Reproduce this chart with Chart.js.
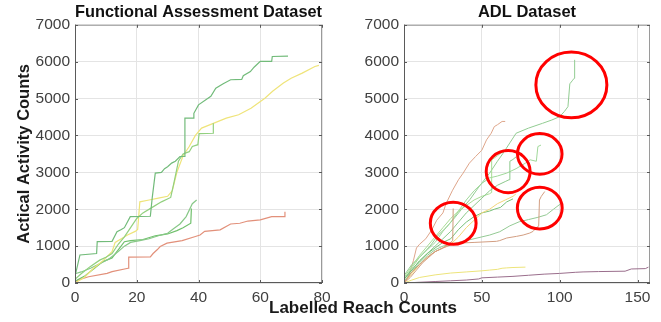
<!DOCTYPE html>
<html>
<head>
<meta charset="utf-8">
<script src="https://cdn.jsdelivr.net/npm/chart.js@4.4.1/dist/chart.umd.min.js"></script>
<style>
  body { margin:0; background:#fff; width:661px; height:322px; overflow:hidden; position:relative; }
  canvas { position:absolute; top:0; }
  #faCanvas { left:0; }
  #adlCanvas { left:330px; }
  #xlabel { position:absolute; left:213px; width:300px; top:298px; text-align:center;
            font-family:"Liberation Sans", Arial, sans-serif; font-weight:bold; font-size:17px; color:#1a1a1a; }
</style>
</head>
<body>
<canvas id="faCanvas" width="345" height="322"></canvas>
<canvas id="adlCanvas" width="331" height="322"></canvas>
<div id="xlabel">Labelled Reach Counts</div>
<script>
// Functional Assessment dataset: [reach count, activity count]
const faGreen1 = [[0,180],[1.6,760],[7,800],[7.2,1120],[12,1130],[13.6,1390],[15,1450],[16,1500],[17.9,1800],[24.4,1810],[25,2300],[26,2980],[28,3000],[29,3100],[30,3150],[31.3,3250],[32.5,3300],[34,3430],[35.6,3430],[35.6,4470],[38.3,4470],[38.5,4600],[40,4830],[44,5060],[45.6,5280],[48,5400],[50.4,5510],[54,5520],[54.5,5620],[56.8,5730],[58,5850],[60,6010],[63.7,6010],[63.9,6140],[69,6150]];
const faGreen2 = [[0,100],[2,250],[5,450],[8,620],[10,700],[12,800],[14,1050],[16,1250],[18,1500],[20,1750],[22,1900],[25,2050],[28,2200],[31,2320],[32,2700],[33.5,3300],[35,3500],[37,3560],[38,3700],[39.8,3750],[40.2,4050],[44.8,4060],[44.8,4330]];
const faYellow = [[0,0],[3,150],[6,400],[9,600],[12,850],[13,1100],[15,1200],[17,1300],[19.5,1400],[20.3,1450],[21,2200],[24,2250],[27,2300],[30,2350],[31.5,2500],[33,3000],[35,3450],[37,3700],[39,4000],[41,4200],[44,4300],[49,4470],[53,4560],[57,4740],[61.5,5010],[64,5200],[67.5,5420],[70,5550],[73.6,5690],[77.7,5870],[79,5900]];
const faGreen3 = [[0,250],[2,300],[5,400],[8,520],[11,650],[14,850],[16,1000],[18,1100],[21,1150],[24,1200],[27,1280],[30,1350],[32,1480],[34,1600],[36,1800],[38,2150],[39.4,2250]];
const faGreen4 = [[0,50],[3,180],[6,380],[9,580],[12,680],[14,900],[16,1120],[18,1150],[22,1180],[26,1280],[30,1330],[33,1420],[35,1500],[37.5,1620],[37.7,2020]];
const faOrange = [[0,0],[1,80],[4.4,170],[10.4,260],[12,310],[17.2,400],[17.4,700],[24.4,710],[25.3,800],[26.6,900],[27.6,990],[29.8,1080],[34.7,1150],[39,1260],[40.5,1300],[42,1400],[47,1440],[50.4,1600],[53.4,1620],[56,1680],[60,1710],[63.7,1800],[68,1800],[68,1930]];
const faSeries = [faGreen1, faGreen2, faYellow, faGreen3, faGreen4, faOrange];
const faColors = ['#72bb7a', '#92d07f', '#efe47a', '#88c888', '#70c06c', '#e2907a'];

// ADL dataset
const adlGreen1 = [[0,200],[5,500],[10,700],[16.7,1000],[22,1300],[27,1500],[31.6,1720],[37,2000],[42.3,2260],[48,2600],[55,2980],[60,3300],[63.7,3520],[68,3800],[72,4060],[80,4200],[89,4330],[95,4420],[100,4510],[103,4650],[105.3,4780],[106.5,5400],[108,5480],[109.3,5550],[109.6,6050]];
const adlGreen2 = [[0,100],[5,400],[10,700],[15,900],[20,1100],[25,1400],[30,1650],[35,1950],[40,2250],[45,2500],[50,2700],[55,2850],[60,2900],[66,2980],[72,3100],[78,3250],[81,3340],[85,3300],[86,3700],[88,3740]];
const adlGreen3 = [[0,100],[5,350],[10,600],[15,800],[20,1000],[25,1200],[30,1400],[35,1650],[40,1900],[45,2100],[50,2300],[55,2500],[60,2650],[65,2750],[67.5,2800],[68,3300],[70,3350],[72,3420]];
const adlGreen4 = [[0,50],[5,300],[10,550],[15,750],[20,900],[25,1000],[30,1050],[35,1100],[40,1150],[45,1200],[50,1250],[55,1300],[61.5,1390],[68,1550],[74,1660],[80,1720],[86,1780],[91.5,1850],[96,2000],[101,2160]];
const adlGreen5 = [[0,100],[5,350],[10,600],[15,800],[20,950],[25,1100],[30,1200],[35,1450],[40,1650],[45,1800],[50,1900],[55,1950],[58,2000],[62,2050],[66,2200],[70,2280]];
const adlGreen6 = [[0,150],[5,450],[10,750],[15,1000],[20,1250],[25,1500],[30,1750],[35,1950],[40,2100],[45,2250],[50,2350],[55,2420],[56,2450],[56.3,3340],[60,3450],[64.7,3600],[66,3620]];
const adlYellow1 = [[0,0],[5,250],[10,500],[15,700],[20,850],[25,950],[30,1050],[35,1250],[40,1500],[45,1700],[50,1900],[55,2000],[60,2150],[65,2250],[70,2350],[72,2420]];
const adlYellow2 = [[0,0],[5,80],[10,150],[20,220],[30,270],[40,300],[50,330],[55,350],[60,370],[63,400],[66,410],[70,420],[78,430]];
const adlOrange1 = [[0,0],[3,200],[6,600],[8,950],[10,1050],[14,1200],[18,1450],[21,1700],[25,1900],[27,2150],[31,2500],[35,2800],[38,2980],[42,3250],[46,3430],[50,3600],[53,3880],[56,4060],[58,4240],[60,4290],[63,4380],[65,4380]];
const adlOrange2 = [[0,0],[4,150],[8,350],[12,550],[16,700],[20,850],[25,950],[30,1030],[33.8,1080],[45,1100],[59.4,1130],[61.5,1150],[66,1220],[72.2,1264],[76.5,1300],[80.8,1355],[82.9,1400],[85,1500],[86.5,1540],[87,2250],[88.2,2350],[90.4,2480]];
const adlBrown = [[0,0],[5,300],[10,500],[15,700],[20,850],[25,950],[30,1100],[31.3,1150],[31.6,2020]];
const adlPurple = [[0,0],[10,20],[20,40],[30,60],[40,80],[48,110],[50,140],[60,160],[70,180],[80,210],[90,240],[100,260],[110,290],[115,300],[125,310],[142,320],[146,380],[155,390],[157,430]];
const adlSeries = [adlPurple, adlYellow2, adlOrange2, adlBrown, adlYellow1, adlGreen4, adlGreen5, adlGreen3, adlGreen6, adlGreen2, adlGreen1, adlOrange1];
const adlColors = ['#9a6e8c', '#ede47a', '#d29e82', '#cf9a78', '#f2d67a', '#94ca94', '#78c078', '#8cc88c', '#a8dc94', '#a0d89a', '#92cc92', '#dea58a'];

// highlighted regions on the ADL plot (centre and radius in data units)
const circleX = [107.5, 87.2, 66.9, 87.2, 31.6];
const circleY = [5370, 3500, 3020, 2030, 1620];
const circleRX = [22.8, 14.3, 14.1, 14.4, 14.7];
const circleRY = [890, 550, 570, 565, 570];

const yTicksMax = 7000;
const font = '"Liberation Sans", Arial, sans-serif';

const boxPlugin = {
    id: 'box',
    afterDatasetsDraw(chart) {
        const {ctx, chartArea: a, scales} = chart;
        ctx.save();
        ctx.lineWidth = 1;
        ctx.strokeStyle = '#9a9a9a';
        ctx.strokeRect(a.left + 0.5, a.top + 0.5, a.right - a.left - 1, a.bottom - a.top - 1);
        ctx.strokeStyle = '#5a5a5a';
        ctx.beginPath();
        ctx.moveTo(a.left + 0.5, a.top);
        ctx.lineTo(a.left + 0.5, a.bottom - 0.5);
        ctx.lineTo(a.right, a.bottom - 0.5);
        ctx.stroke();
        ctx.beginPath();
        scales.x.ticks.forEach(t => {
            const px = Math.round(scales.x.getPixelForValue(t.value)) + 0.5;
            ctx.moveTo(px, a.bottom); ctx.lineTo(px, a.bottom - 3);
            ctx.moveTo(px, a.top); ctx.lineTo(px, a.top + 3);
        });
        scales.y.ticks.forEach(t => {
            const py = Math.round(scales.y.getPixelForValue(t.value)) + 0.5;
            ctx.moveTo(a.left, py); ctx.lineTo(a.left + 3, py);
            ctx.moveTo(a.right, py); ctx.lineTo(a.right - 3, py);
        });
        ctx.stroke();
        ctx.restore();
    }
};

const circlePlugin = {
    id: 'circles',
    afterDraw(chart) {
        const {ctx, scales} = chart;
        ctx.save();
        ctx.strokeStyle = '#ff0000';
        ctx.lineWidth = 3;
        for (let i = 0; i < circleX.length; ++i) {
            const cx = scales.x.getPixelForValue(circleX[i]);
            const cy = scales.y.getPixelForValue(circleY[i]);
            const rx = scales.x.getPixelForValue(circleX[i] + circleRX[i]) - cx;
            const ry = cy - scales.y.getPixelForValue(circleY[i] + circleRY[i]);
            ctx.beginPath();
            ctx.ellipse(cx, cy, rx, ry, 0, 0, Math.PI * 2);
            ctx.stroke();
        }
        ctx.restore();
    }
};

function drawPanel(canvasId, titleText, series, colors, xMax, xStep, yTitle, yWidth, padRight, lineWidth, plugins) {
    const datasets = series.map((s, i) => ({
        data: s.map(p => ({x: p[0], y: p[1]})),
        borderColor: colors[i],
        borderWidth: lineWidth,
        pointRadius: 0,
        tension: 0,
        fill: false
    }));

    const config = {
        type: 'line',
        data: {datasets: datasets},
        options: {
            responsive: false,
            animation: false,
            devicePixelRatio: 1,
            layout: {autoPadding: false, padding: {left: 0, right: padRight, top: 0, bottom: 0}},
            plugins: {
                legend: {display: false},
                tooltip: {enabled: false},
                title: {
                    display: true,
                    text: titleText,
                    fullSize: false,
                    color: '#111',
                    font: {family: font, size: 16.5, weight: 'bold'},
                    padding: {top: 3, bottom: 2}
                }
            },
            scales: {
                x: {
                    type: 'linear',
                    min: 0,
                    max: xMax,
                    afterBuildTicks: s => {
                        let ticks = [];
                        for (let v = 0; v <= xMax; v += xStep) ticks.push({value: v});
                        s.ticks = ticks;
                    },
                    afterFit: s => { s.height = 39; },
                    ticks: {stepSize: xStep, color: '#404040', padding: 5, maxRotation: 0,
                            font: {family: font, size: 15.5}},
                    grid: {color: '#e4e4e4', drawTicks: false},
                    border: {display: false}
                },
                y: {
                    min: 0,
                    max: yTicksMax,
                    afterFit: s => { s.width = yWidth; },
                    ticks: {stepSize: 1000, color: '#404040', padding: 5,
                            callback: v => String(v),
                            font: {family: font, size: 15.5}},
                    grid: {color: '#e4e4e4', drawTicks: false},
                    border: {display: false},
                    title: {
                        display: yTitle != null,
                        text: yTitle,
                        color: '#1a1a1a',
                        font: {family: font, size: 16.5, weight: 'bold'},
                        padding: {top: 15, bottom: 0}
                    }
                }
            }
        },
        plugins: plugins
    };
    return new Chart(canvasId, config);
}

drawPanel('faCanvas', 'Functional Assessment Dataset', faSeries, faColors, 80, 20,
          'Actical Activity Counts', 75, 23, 1.2, [boxPlugin]);
drawPanel('adlCanvas', 'ADL Dataset', adlSeries, adlColors, 158, 50,
          null, 74, 11, 1, [boxPlugin, circlePlugin]);
</script>
</body>
</html>
